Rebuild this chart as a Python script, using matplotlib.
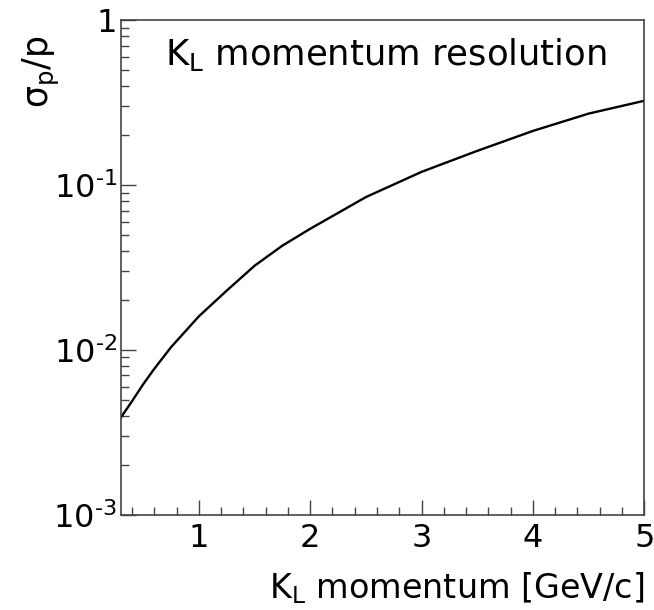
import matplotlib
matplotlib.use('Agg')
import matplotlib.pyplot as plt
from matplotlib.ticker import MultipleLocator, LogLocator, NullFormatter, FixedLocator

plt.rcParams['font.family'] = ['DejaVu Sans']
plt.rcParams['mathtext.fontset'] = 'dejavusans'

# K_L momentum [GeV/c] vs relative resolution sigma_p/p
momentum = [0.30, 0.40, 0.50, 0.60, 0.75, 1.00, 1.25, 1.50, 1.75, 2.00,
            2.50, 3.00, 3.50, 4.00, 4.50, 5.00]
resolution = [0.0039, 0.0049, 0.0062, 0.0077, 0.0104, 0.0160, 0.0229, 0.0324,
              0.0429, 0.0543, 0.0845, 0.1202, 0.1611, 0.2128, 0.2710, 0.3243]

x_ticks = [1, 2, 3, 4, 5]
y_ticks = [1e-3, 1e-2, 1e-1, 1]
y_ticklabels = ['$10^{\u2010 3}$', '$10^{\u2010 2}$', '$10^{\u2010 1}$', '1']

fig = plt.figure(figsize=(6.54, 6.10), dpi=100)
ax = fig.add_axes([0.185, 0.156, 0.800, 0.811])

ax.plot(momentum, resolution, color='black', lw=1.7)

ax.set_yscale('log')
ax.set_xlim(0.3, 5.0)
ax.set_ylim(1e-3, 1)

ax.xaxis.set_major_locator(FixedLocator(x_ticks))
ax.xaxis.set_minor_locator(MultipleLocator(0.2))
ax.set_yticks(y_ticks)
ax.set_yticklabels(y_ticklabels)
ax.yaxis.set_minor_locator(LogLocator(base=10, subs=range(2, 10)))
ax.yaxis.set_minor_formatter(NullFormatter())

ax.tick_params(which='both', direction='in', top=False, right=False,
               color='#444444', width=1.0)
ax.tick_params(which='major', length=11, labelsize=23)
ax.tick_params(which='minor', length=6)
ax.tick_params(axis='x', which='major', pad=6)
ax.tick_params(axis='y', which='major', pad=3)

for s in ax.spines.values():
    s.set_color('#444444')
    s.set_linewidth(1.2)

ax.set_xlabel(r'K$_{\mathregular{L}}$ momentum [GeV/c]', fontsize=24)
ax.xaxis.label.set_ha('right')
ax.xaxis.label.set_va('baseline')
ax.xaxis.set_label_coords(1.0, -0.168)

ax.set_ylabel(r'σ$_{\mathregular{p}}$/p', fontsize=25)
ax.yaxis.label.set_ha('right')
ax.yaxis.set_label_coords(-0.112, 0.97)

ax.text(0.085, 0.909, r'K$_{\mathregular{L}}$ momentum resolution',
        transform=ax.transAxes, fontsize=25.5, ha='left', va='baseline')

fig.savefig('out.png', dpi=100)
